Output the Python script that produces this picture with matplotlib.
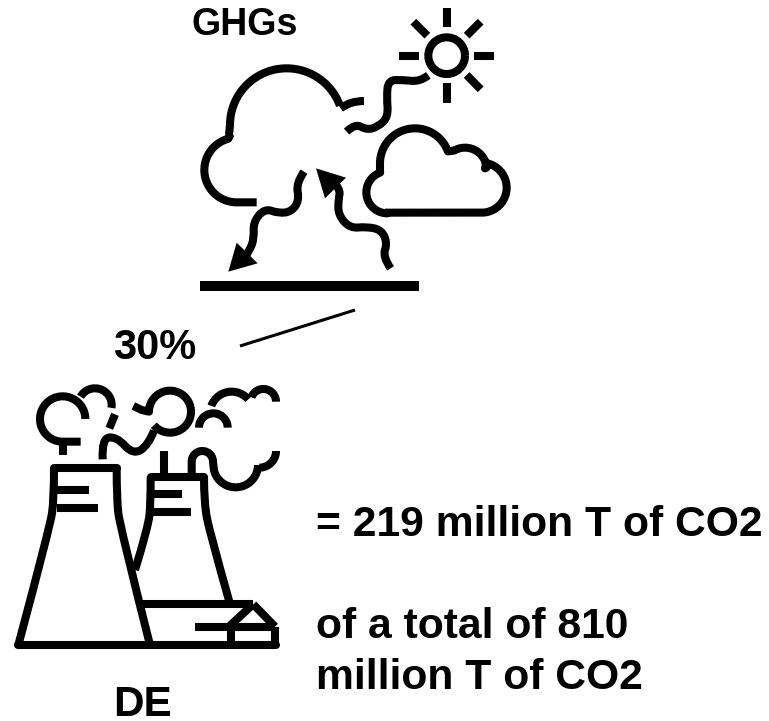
import numpy as np
import matplotlib
matplotlib.use("Agg")
import matplotlib.pyplot as plt
from matplotlib.path import Path
from matplotlib.patches import PathPatch, Polygon

title_label = "GHGs"
share_label = "30%"
region_label = "DE"
amount_label = "= 219 million T of CO2"
total_lines = ["of a total of 810", "million T of CO2"]

FONT = "Liberation Sans"
W, H = 769, 721
fig = plt.figure(figsize=(W / 100, H / 100), dpi=100)
ax = fig.add_axes([0, 0, 1, 1])
ax.set_xlim(0, W)
ax.set_ylim(H, 0)
ax.axis("off")

LW = 5.8


def sky(pts):
    return [(190 + x / 3, y / 3) for x, y in pts]


def plant(pts):
    return [(x / 3, 370 + y / 3) for x, y in pts]


def stroke(pts, lw=LW, cap="butt"):
    a = np.array(pts, float)
    ax.plot(a[:, 0], a[:, 1], color="black", lw=lw, solid_capstyle=cap, solid_joinstyle="round")


def arc(cx, cy, r, a0, a1):
    t = np.radians(np.linspace(a0, a1, 80))
    return list(zip(cx + r * np.cos(t), cy + r * np.sin(t)))


def smooth(pts, lw=LW):
    verts = [pts[0]]
    codes = [Path.MOVETO]
    for i in range(1, len(pts) - 1):
        end = pts[i + 1] if i == len(pts) - 2 else ((pts[i][0] + pts[i + 1][0]) / 2, (pts[i][1] + pts[i + 1][1]) / 2)
        verts += [pts[i], end]
        codes += [Path.CURVE3, Path.CURVE3]
    ax.add_patch(PathPatch(Path(verts, codes), fc="none", ec="black", lw=lw, capstyle="butt", joinstyle="round"))


# sky icon
stroke(sky(arc(770, 167, 55, 0, 360)))
for seg in [[(770, 25), (770, 82)], [(770, 250), (770, 308)], [(628, 167), (688, 167)],
            [(852, 167), (913, 167)], [(670, 65), (712, 107)], [(872, 65), (830, 107)],
            [(830, 225), (872, 268)]]:
    stroke(sky(seg))
smooth(sky([(715, 226), (690, 245), (640, 240), (595, 240), (590, 290), (595, 350), (565, 380),
            (530, 390), (495, 370), (470, 395)]))
# big cloud
stroke(sky([(200, 607), (140, 607)] + arc(140, 510, 97, 90, 255) + [(122, 402)]))
stroke(sky([(117, 405), (120, 375)] + arc(290, 375, 170, 180, 340)))
smooth(sky([(452, 325), (480, 303), (522, 303)]))
# small cloud
cl = [(585, 638), (875, 638)] + arc(875, 563, 75, 90, -80) + [(885, 505)]
cl += arc(825, 508, 65, -5, -120) + arc(675, 490, 105, -20, -180) + [(570, 512)]
cl += arc(592, 577, 63, 250, 90) + [(585, 638)]
stroke(sky(cl))
# arrows
smooth(sky([(342, 515), (318, 550), (328, 600), (305, 635), (265, 640), (225, 625), (190, 665),
            (192, 715), (180, 750), (160, 780)]))
ax.add_patch(Polygon(sky([(115, 815), (140, 728), (203, 790)]), fc="black", ec="none"))
smooth(sky([(602, 805), (578, 770), (592, 730), (575, 690), (530, 680), (480, 685), (445, 645),
            (445, 600), (452, 565), (420, 535)]))
ax.add_patch(Polygon(sky([(378, 505), (405, 595), (468, 533)]), fc="black", ec="none"))
stroke(sky([(30, 858), (688, 858)]), lw=7.2)
# connector
stroke([(240, 346), (355, 310)], lw=2.2)

# plant icon
stroke(plant([(55, 825), (828, 825)]), cap="round")
stroke(plant([(825, 770), (825, 825)]))
smooth(plant([(450, 825), (360, 470), (350, 390), (350, 295)]))
smooth(plant([(55, 825), (150, 470), (162, 390), (162, 295)]))
stroke(plant([(162, 295), (350, 295)]), cap="round")
for seg in [[(170, 360), (268, 360)], [(170, 413), (295, 413)], [(460, 373), (545, 373)],
            [(460, 427), (572, 427)], [(492, 243), (492, 320)], [(430, 703), (760, 703)],
            [(760, 703), (825, 770)], [(585, 772), (825, 772)], [(692, 772), (692, 825)],
            [(690, 767), (757, 705)]]:
    stroke(plant(seg))
smooth(plant([(405, 600), (445, 470), (452, 400), (452, 320)]))
smooth(plant([(688, 695), (630, 490), (612, 400), (612, 320)]))
stroke(plant([(452, 320), (612, 320)]), cap="round")
# smoke
stroke(plant([(190, 255), (190, 215)]))
stroke(plant([(242, 215), (190, 215)] + arc(188, 147, 68, 90, 360)))
stroke(plant(arc(285, 105, 50, 210, 370)))
stroke(plant([(345, 133), (328, 175)]))
smooth(plant([(308, 268), (305, 205), (350, 200), (400, 255), (445, 225), (462, 182)]))
stroke(plant(arc(510, 125, 63, 140, -180) + [(425, 120), (400, 108)]))
stroke(plant(arc(640, 173, 43, 180, 360)))
stroke(plant(arc(695, 130, 65, 200, 320)))
stroke(plant(arc(790, 95, 38, 200, 360)))
stroke(plant([(575, 310), (575, 275)] + arc(607, 275, 32, 180, 360) + arc(707, 285, 67, 180, 0)))
stroke(plant(arc(778, 243, 50, 90, 0)))

# text
tx = dict(family=FONT, weight="bold", color="black", va="baseline")
ax.text(244.5, 35, title_label, ha="center", fontsize=27, **tx)
ax.text(155, 359, share_label, ha="center", fontsize=30, **tx)
ax.text(142.5, 716.5, region_label, ha="center", fontsize=30.4, **tx)
ax.text(316, 536.5, amount_label, ha="left", fontsize=30.7, **tx)
ax.text(316, 638, total_lines[0], ha="left", fontsize=30.7, **tx)
ax.text(316, 689, total_lines[1], ha="left", fontsize=30.7, **tx)

fig.savefig("out.png", dpi=100)
